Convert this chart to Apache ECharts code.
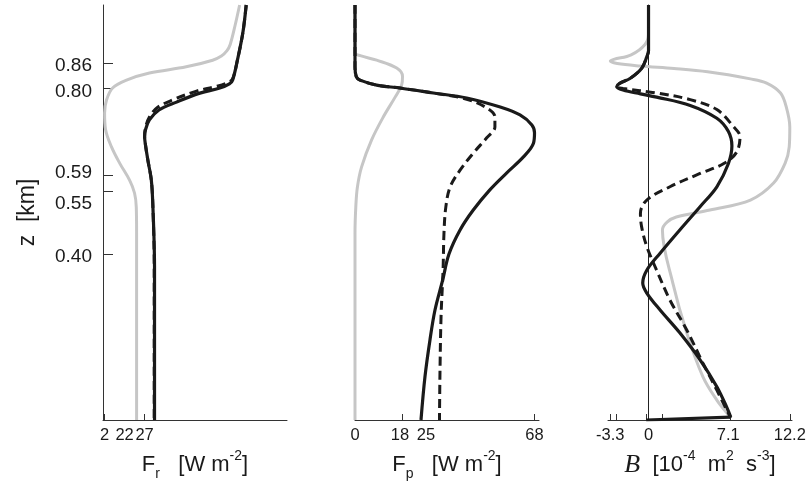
<!DOCTYPE html>
<html>
<head>
<meta charset="utf-8">
<script src="https://cdn.jsdelivr.net/npm/echarts@6/dist/echarts.min.js"></script>
<style>
  html, body { margin: 0; padding: 0; background: #fff; }
  #chart { width: 806px; height: 483px; }
</style>
</head>
<body>
<div id="chart"></div>
<script>
// Height axis (km) and tick positions
const zTicks = [0.40, 0.55, 0.59, 0.80, 0.86];

// Radiative flux F_r [W m^-2] : [value, z]
const frTicks = [2, 22, 27];
const frGrey = [[86.4,1.0],[83.5,0.95],[80.5,0.905],[78.5,0.89],[75,0.877],[69.5,0.867],[53,0.851],[30,0.836],[15.7,0.819],[7,0.80],[3.2,0.771],[2,0.74],[2.6,0.70],[6.3,0.658],[11.4,0.619],[17.6,0.578],[20.7,0.547],[21.8,0.513],[22,0.45],[22,0.0]];
const frSolid = [[90.5,1.0],[88.4,0.933],[85,0.867],[82,0.819],[80,0.81],[74,0.80],[61,0.787],[47,0.766],[36,0.747],[30,0.723],[27.6,0.70],[27,0.682],[27.4,0.667],[29,0.627],[31.2,0.578],[32.2,0.513],[33.2,0.37],[33.2,0.0]];
const frDashed = [[90.5,1.0],[88.4,0.933],[85,0.867],[82,0.822],[79,0.813],[72,0.804],[59,0.792],[45,0.772],[35,0.753],[30,0.73],[27.6,0.705],[27,0.685],[27.4,0.667],[29,0.627],[31.2,0.578],[32.2,0.513],[33,0.37],[33,0.0]];

// Latent / phase flux F_p [W m^-2]
const fpTicks = [0, 18, 25, 68];
const fpGrey = [[0,1.0],[0,0.885],[2,0.878],[8.2,0.867],[15.8,0.848],[18,0.828],[17.7,0.808],[15.2,0.778],[10.7,0.73],[6.3,0.675],[2.5,0.61],[0.9,0.561],[0.3,0.513],[0,0.45],[0,0.0]];
const fpSolid = [[0,1.0],[0,0.851],[0.5,0.827],[1.9,0.819],[8.2,0.807],[17,0.80],[29.7,0.788],[42.3,0.776],[55,0.754],[62.5,0.735],[67,0.711],[68,0.692],[67.6,0.667],[63.8,0.634],[57.4,0.595],[51,0.554],[44.8,0.506],[39.8,0.458],[35.6,0.40],[33.2,0.337],[30.3,0.265],[28.4,0.193],[26.5,0.104],[25,0.0]];
const fpDashed = [[0,1.0],[0,0.851],[0.5,0.827],[1.9,0.819],[8.2,0.807],[17,0.80],[29.7,0.788],[42.3,0.773],[49.9,0.752],[53,0.73],[53,0.706],[49.9,0.68],[44.8,0.643],[39.8,0.602],[36,0.561],[34.4,0.513],[33.7,0.45],[33.4,0.369],[33.2,0.337],[32.6,0.25],[32.2,0.12],[32,0.0]];

// Buoyancy flux B [10^-4 m^2 s^-3]
const bTicks = [-3.3, -2.75, -0.2, 1.15, 7.1, 12.2];
const bLabels = [-3.3, 0, 7.1, 12.2];
const bGrey = [[0,1.0],[0,0.93],[-0.3,0.905],[-1.5,0.88],[-3.0,0.869],[-3.3,0.865],[-2.7,0.859],[-0.7,0.853],[2.2,0.847],[5.1,0.839],[8.8,0.822],[10.2,0.812],[11.4,0.788],[11.9,0.754],[12.2,0.706],[12.15,0.658],[11.8,0.619],[10.8,0.571],[8.8,0.53],[5.3,0.506],[2.4,0.489],[1.6,0.477],[1.2,0.458],[2.1,0.33],[3.3,0.21],[4.7,0.104],[5.9,0.048],[6.9,0.012],[7.1,0.005]];
const bSolid = [[0,1.0],[0,0.89],[-0.15,0.875],[-0.6,0.847],[-1.6,0.823],[-2.5,0.811],[-2.75,0.803],[-2.2,0.795],[-0.7,0.786],[0.7,0.778],[3.6,0.758],[5.9,0.727],[6.9,0.695],[7.2,0.66],[6.9,0.618],[5.9,0.562],[4.45,0.514],[2.7,0.458],[1.0,0.402],[-0.15,0.361],[-0.5,0.33],[-0.15,0.306],[1.0,0.265],[2.7,0.21],[4.45,0.145],[5.9,0.08],[6.75,0.031],[7.1,0.007]];
const bSurface = [[7.1,0.007],[-0.2,0.0]];
const bDashed = [[0,1.0],[0,0.89],[-0.15,0.875],[-0.6,0.847],[-1.6,0.823],[-2.5,0.811],[-2.75,0.803],[-2.2,0.799],[0.7,0.788],[3.6,0.772],[5.9,0.748],[7.3,0.708],[7.9,0.683],[7.6,0.645],[6.5,0.618],[4.45,0.594],[1.85,0.562],[-0.15,0.53],[-0.7,0.498],[-0.6,0.466],[-0.15,0.418],[0.7,0.361],[1.85,0.289],[3.3,0.217],[4.7,0.137],[5.9,0.072],[6.75,0.024],[7.1,0.005]];

const SANS = '"Liberation Sans", Arial, Helvetica, sans-serif';
const SERIF = '"Liberation Serif", "Times New Roman", serif';
const INK = '#1a1a1a';
const AXIS = '#333';
const GREY = '#c6c6c6';

const chart = echarts.init(document.getElementById('chart'), null, { renderer: 'canvas' });

const nameRich = {
  t:   { fontFamily: SANS, fontSize: 22, color: INK, lineHeight: 28 },
  it:  { fontFamily: SERIF, fontStyle: 'italic', fontSize: 26, color: INK, lineHeight: 28 },
  sub: { fontFamily: SANS, fontSize: 14, color: INK, verticalAlign: 'bottom', lineHeight: 28, padding: [0, 0, -2, 0] },
  sup: { fontFamily: SANS, fontSize: 14, color: INK, verticalAlign: 'top', lineHeight: 28, padding: [-2, 0, 0, 0] }
};

// tick label styles; padding nudges crowded labels sideways
function tickLabelRich() {
  const base = { fontFamily: SANS, fontSize: 16.5, color: INK };
  return {
    n:   base,
    l23: Object.assign({ padding: [0, 24, 0, 0] }, base),
    l5:  Object.assign({ padding: [0, 5, 0, 0] }, base),
    r10: Object.assign({ padding: [0, 0, 0, 10] }, base)
  };
}

function xAxisBase(grid, min, max, ticks, labels, fmt, name) {
  return {
    gridIndex: grid, type: 'value', min: min, max: max,
    axisLine: { show: true, onZero: false, lineStyle: { color: AXIS, width: 1 } },
    axisTick: { show: true, inside: true, length: 6, customValues: ticks, lineStyle: { color: AXIS, width: 1 } },
    axisLabel: { show: true, hideOverlap: false, customValues: labels, margin: 7, formatter: fmt, rich: tickLabelRich() },
    splitLine: { show: false },
    name: name, nameLocation: 'middle', nameGap: 31,
    nameTextStyle: { rich: nameRich }
  };
}

const zLabelRich = {
  z86: { fontFamily: SANS, fontSize: 19, color: INK, padding: [6, 0, 0, 0] },
  z80: { fontFamily: SANS, fontSize: 19, color: INK, padding: [7, 0, 0, 0] },
  z59: { fontFamily: SANS, fontSize: 19, color: INK, padding: [0, 0, 4, 0] },
  z55: { fontFamily: SANS, fontSize: 19, color: INK, padding: [24, 0, 0, 0] },
  z40: { fontFamily: SANS, fontSize: 19, color: INK, padding: [5, 0, 0, 0] }
};

function line(xi, data, style) {
  return Object.assign({
    type: 'line', xAxisIndex: xi, yAxisIndex: xi, data: data,
    symbol: 'none', smooth: 0.35, silent: true, animation: false
  }, style);
}
const greyStyle = { lineStyle: { color: GREY, width: 3 }, z: 2 };
const solidStyle = { lineStyle: { color: INK, width: 3.2, join: 'round' }, z: 3 };
const dashStyle = { lineStyle: { color: INK, width: 3, type: [9, 5] }, z: 4 };

const option = {
  animation: false,
  backgroundColor: '#fff',
  grid: [
    { left: 103, top: 5, width: 184, height: 415, outerBoundsMode: 'none' },
    { left: 355, top: 5, width: 184, height: 415, outerBoundsMode: 'none' },
    { left: 608, top: 5, width: 184, height: 415, outerBoundsMode: 'none' }
  ],
  xAxis: [
    xAxisBase(0, 1, 116, frTicks, frTicks,
      v => v === 22 ? '{l23|22}' : '{n|' + v + '}',
      '{t|F}{sub|r}{t|   [W m}{sup|-2}{t|]}'),
    xAxisBase(1, 0, 69.7, fpTicks, fpTicks,
      v => v === 18 ? '{l5|18}' : (v === 25 ? '{r10|25}' : '{n|' + v + '}'),
      '{t|F}{sub|p}{t|   [W m}{sup|-2}{t|]}'),
    xAxisBase(2, -3.5, 12.39, bTicks, bLabels,
      v => v === 7.1 ? '{l5|7.1}' : '{n|' + v + '}',
      '{it|B}{t|  [10}{sup|-4}{t|  m}{sup|2}{t|  s}{sup|-3}{t|]}')
  ],
  yAxis: [
    {
      gridIndex: 0, type: 'value', min: 0, max: 1.0,
      axisLine: { show: true, onZero: false, lineStyle: { color: AXIS, width: 1 } },
      axisTick: { show: true, inside: true, length: 10, customValues: zTicks, lineStyle: { color: AXIS, width: 1 } },
      axisLabel: {
        show: true, hideOverlap: false, customValues: zTicks, margin: 11,
        formatter: v => '{z' + Math.round(v * 100) + '|' + v.toFixed(2) + '}',
        rich: zLabelRich
      },
      splitLine: { show: false },
      name: 'z  [km]', nameLocation: 'middle', nameGap: 64,
      nameTextStyle: { fontFamily: SANS, fontSize: 23, color: INK }
    },
    {
      gridIndex: 1, type: 'value', min: 0, max: 1.0, show: false
    },
    {
      gridIndex: 2, type: 'value', min: 0, max: 1.0,
      axisLine: { show: true, onZero: true, lineStyle: { color: '#222', width: 1 } },
      axisTick: { show: false }, axisLabel: { show: false }, splitLine: { show: false }
    }
  ],
  series: [
    line(0, frGrey, greyStyle),
    line(0, frSolid, solidStyle),
    line(0, frDashed, dashStyle),
    line(1, fpGrey, greyStyle),
    line(1, fpSolid, solidStyle),
    line(1, fpDashed, dashStyle),
    line(2, bGrey, greyStyle),
    line(2, bSolid, solidStyle),
    line(2, bSurface, Object.assign({}, solidStyle, { smooth: false })),
    line(2, bDashed, dashStyle)
  ]
};

chart.setOption(option);
</script>
</body>
</html>
